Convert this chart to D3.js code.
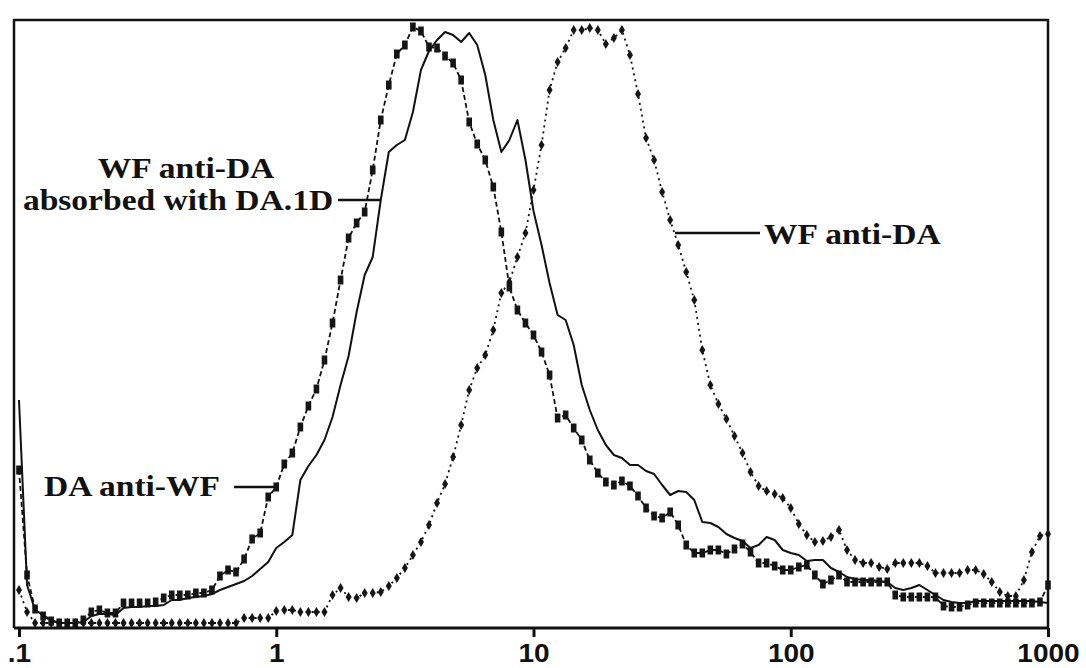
<!DOCTYPE html>
<html>
<head>
<meta charset="utf-8">
<script src="https://cdn.jsdelivr.net/npm/d3@7"></script>
<style>
  body { margin: 0; background: #fff; }
  svg { display: block; }
</style>
</head>
<body>
<svg id="chart" width="1086" height="668"></svg>
<script>
// log fluorescence axis
const tickValues = [0.1, 1, 10, 100, 1000];
const tickLabels = ['.1', '1', '10', '100', '1000'];

// relative cell number per channel (129 channels spanning .1 - 1000)
const daAntiWf = [
  157, 52, 18, 11, 6, 4, 4, 4, 7, 15,
  17, 14, 14, 24, 24, 24, 24, 25, 29, 32,
  32, 32, 34, 34, 37, 51, 57, 55, 68, 88,
  94, 130, 140, 163, 174, 200, 221, 238, 267, 304,
  347, 389, 404, 415, 457, 507, 542, 573, 582, 600,
  596, 580, 579, 571, 564, 547, 505, 483, 467, 440,
  395, 340, 317, 304, 292, 275, 252, 209, 212, 199,
  187, 167, 154, 145, 142, 146, 141, 131, 119, 111,
  109, 115, 102, 82, 74, 74, 77, 77, 73, 78,
  83, 75, 64, 64, 61, 57, 57, 60, 62, 52,
  43, 47, 52, 45, 45, 45, 45, 45, 45, 32,
  30, 30, 30, 30, 30, 21, 20, 20, 22, 24,
  24, 24, 24, 24, 24, 24, 24, 25, 42
];

const wfAntiDaAbsorbed = [
  227, 42, 17, 12, 7, 4, 4, 4, 5, 11,
  13, 13, 12, 19, 20, 20, 21, 21, 22, 27,
  27, 29, 30, 31, 33, 37, 40, 43, 46, 51,
  58, 65, 79, 85, 92, 147, 161, 172, 187, 210,
  242, 271, 315, 352, 370, 427, 475, 482, 487, 515,
  557, 576, 587, 595, 592, 585, 594, 582, 552, 507,
  475, 487, 507, 467, 416, 382, 344, 312, 307, 282,
  242, 217, 197, 182, 172, 169, 162, 162, 156, 153,
  142, 132, 136, 135, 127, 105, 104, 100, 93, 89,
  86, 79, 82, 90, 87, 77, 74, 72, 66, 67,
  67, 59, 55, 50, 48, 47, 47, 46, 45, 39,
  37, 39, 42, 37, 32, 27, 25, 24, 24, 26,
  26, 26, 26, 26, 26, 26, 26, 25, 24
];

const wfAntiDa = [
  37, 15, 4, 4, 4, 4, 4, 4, 4, 4,
  4, 4, 4, 4, 4, 4, 4, 4, 4, 4,
  4, 4, 4, 4, 4, 4, 4, 4, 9, 9,
  9, 9, 16, 17, 17, 15, 15, 15, 15, 32,
  39, 30, 29, 34, 34, 35, 41, 49, 59, 72,
  85, 102, 124, 143, 170, 202, 237, 259, 272, 297,
  334, 345, 370, 394, 437, 482, 537, 565, 579, 597,
  597, 599, 597, 583, 589, 597, 572, 533, 489, 467,
  435, 407, 382, 355, 327, 277, 242, 223, 208, 191,
  174, 155, 141, 136, 133, 129, 119, 103, 92, 85,
  86, 90, 97, 77, 67, 64, 64, 60, 58, 64,
  64, 64, 64, 61, 54, 54, 54, 54, 57, 57,
  53, 45, 35, 31, 31, 47, 75, 91, 93
];

const svg = d3.select('#chart');
const frame = { left: 14, right: 1048, top: 20, bottom: 628 };

const x = d3.scaleLog().domain([0.1, 1000]).range([19, 1048]);
const channel = d3.scaleLinear().domain([0, daAntiWf.length - 1]).range(x.range());
const y = d3.scaleLinear().domain([0, 600]).range([627, 27]);

const serif = '"Liberation Serif", "Times New Roman", serif';
const sans = '"Liberation Sans", Arial, sans-serif';

function drawFrame() {
  svg.append('path')
    .attr('d', `M${frame.left},${frame.bottom} V${frame.top} H${frame.right} V${frame.bottom}`)
    .attr('fill', 'none')
    .attr('stroke', '#111')
    .attr('stroke-width', 2.5);

  const axis = svg.append('g')
    .attr('transform', `translate(0, ${frame.bottom})`)
    .call(d3.axisBottom(x)
      .tickValues(tickValues)
      .tickFormat((d, i) => tickLabels[i])
      .tickSizeInner(9)
      .tickSizeOuter(0));

  axis.select('.domain')
    .attr('d', `M${frame.left},0 H${frame.right}`)
    .attr('stroke', '#111')
    .attr('stroke-width', 3);
  axis.selectAll('line').attr('stroke', '#111').attr('stroke-width', 3);
  axis.selectAll('text')
    .attr('fill', '#111')
    .attr('font-family', sans)
    .attr('font-weight', 'bold')
    .attr('font-size', 25)
    .attr('y', 34)
    .attr('dy', null)
    .attr('transform', 'scale(1.12,1)');
}

function drawSeries(values, dash, marker) {
  const line = d3.line()
    .x((d, i) => channel(i))
    .y((d) => y(d));

  svg.append('path')
    .datum(values)
    .attr('fill', 'none')
    .attr('stroke', '#111')
    .attr('stroke-width', marker ? 1.8 : 2)
    .attr('stroke-dasharray', dash)
    .attr('stroke-linejoin', 'round')
    .attr('d', line);

  if (marker === 'square') {
    svg.append('g')
      .selectAll('rect')
      .data(values)
      .join('rect')
      .attr('x', (d, i) => channel(i) - 2.8)
      .attr('y', (d) => y(d) - 4.5)
      .attr('width', 5.6)
      .attr('height', 9)
      .attr('fill', '#151515');
  } else if (marker === 'diamond') {
    svg.append('g')
      .selectAll('path')
      .data(values)
      .join('path')
      .attr('transform', (d, i) => `translate(${channel(i)}, ${y(d)})`)
      .attr('d', 'M0,-5 L3,0 L0,5 L-3,0 Z')
      .attr('fill', '#151515');
  }
}

function label(lines, tx, ty, anchor) {
  const t = svg.append('text')
    .attr('font-family', serif)
    .attr('font-weight', 'bold')
    .attr('font-size', 30.5)
    .attr('fill', '#111')
    .attr('text-anchor', anchor)
    .attr('transform', `translate(${tx},${ty}) scale(1.1,1)`);
  lines.forEach((s, i) => {
    t.append('tspan').attr('x', 0).attr('y', i * 34).text(s);
  });
}

function pointer(x1, y1, x2, y2) {
  svg.append('line')
    .attr('x1', x1).attr('y1', y1)
    .attr('x2', x2).attr('y2', y2)
    .attr('stroke', '#111')
    .attr('stroke-width', 2.5);
}

drawFrame();
drawSeries(wfAntiDa, '2,4', 'diamond');
drawSeries(daAntiWf, '5,3', 'square');
drawSeries(wfAntiDaAbsorbed, null, null);

label(['WF anti-DA'], 186, 178, 'middle');
label(['absorbed with DA.1D'], 178, 210, 'middle');
pointer(338, 200, channel(45), y(wfAntiDaAbsorbed[45]));
label(['DA anti-WF'], 44, 496, 'start');
pointer(234, 487, channel(32), y(daAntiWf[32]));
label(['WF anti-DA'], 764, 244, 'start');
pointer(675, 233, 760, 233);
</script>
</body>
</html>
